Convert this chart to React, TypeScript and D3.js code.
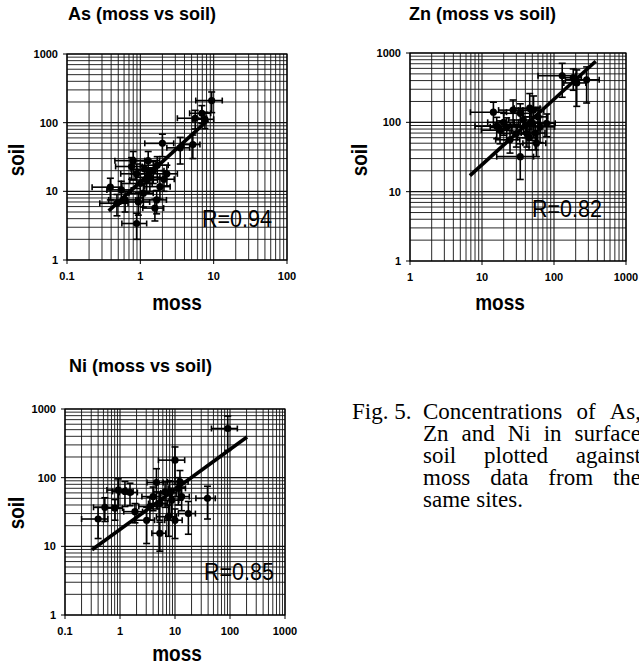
import React, { useEffect, useRef } from 'react';
import * as d3 from 'd3';

// As: moss vs soil
const asMoss = [9.4, 6.9, 5.6, 7.6, 2.0, 3.5, 5.2, 0.39, 0.89, 0.76, 0.89, 1.22, 1.5, 1.1, 1.67, 1.85, 0.62, 0.48, 1.28, 2.3, 0.94, 0.55, 1.58, 1.0, 1.35, 1.7, 2.1, 0.8, 1.15];
const asMossErr = [3.7, 2.2, 2.4, 2.4, 0.85, 1.2, 1.3, 0.17, 0.33, 0.3, 0.35, 0.5, 0.6, 0.4, 0.6, 0.7, 0.25, 0.2, 0.55, 0.9, 0.4, 0.2, 0.5, 0.45, 0.5, 0.7, 0.8, 0.35, 0.4];
const asSoil = [210, 137, 116, 112, 50, 43, 48, 11.5, 3.4, 23, 18, 14.6, 20, 9.4, 7.5, 11.7, 7.5, 6.7, 28, 18, 7, 10.5, 5.7, 13, 16, 24, 15, 28, 21];
const asSoilErr = [70, 40, 35, 30, 18, 18, 18, 4, 1.4, 8, 7, 5, 7, 3.5, 2.8, 4, 2.5, 2.3, 10, 6, 2.5, 3.5, 2, 5, 6, 8, 5, 10, 7];
const asTrend = [[0.37, 5.2], [8.4, 110]];

// Zn: moss vs soil
const znMoss = [130, 207, 284, 185, 14.4, 34, 22, 34, 52, 42, 64, 57, 30, 17.8, 79, 24.5, 37.5, 46, 27, 48, 60, 40, 55, 20, 45, 16];
const znMossErr = [70, 70, 140, 55, 7.5, 18, 9, 14, 20, 15, 38, 20, 12, 8, 25, 9, 14, 18, 10, 16, 22, 15, 20, 8, 14, 8];
const znSoil = [470, 370, 410, 440, 140, 32, 86, 135, 150, 69, 86, 50, 69, 77, 97, 56, 108, 160, 150, 100, 120, 90, 70, 100, 60, 88];
const znSoilErr = [240, 200, 220, 150, 55, 17, 30, 50, 90, 25, 35, 18, 25, 28, 35, 20, 40, 100, 60, 45, 45, 30, 30, 35, 20, 30];
const znTrend = [[6.8, 17], [380, 760]];

// Ni: moss vs soil
const niMoss = [91, 10, 39, 0.4, 0.53, 0.93, 1.23, 1.52, 0.81, 4.6, 6.6, 11.5, 12.3, 3.5, 5.3, 8.7, 17.5, 5.3, 3.05, 7.6, 1.87, 10, 13.2, 4.0, 8.0];
const niMossErr = [45, 5, 15, 0.2, 0.2, 0.35, 0.5, 0.55, 0.3, 1.5, 2.5, 4, 5, 1.3, 2, 3, 6, 1.5, 1.2, 3, 0.7, 3.5, 5, 1.5, 2.5];
const niSoil = [520, 180, 50, 25, 37, 66, 63, 61, 36, 85, 62, 70, 87, 38, 42, 47, 30, 15.5, 24, 27, 32, 24, 53, 53, 60];
const niSoilErr = [270, 100, 25, 12, 14, 30, 25, 22, 12, 50, 25, 30, 40, 14, 18, 20, 15, 7, 13, 13, 10, 11, 20, 20, 30];
const niTrend = [[0.31, 8.9], [204, 390]];

const soilLabels = ['1', '10', '100', '1000'];
const asMossLabels = ['0.1', '1', '10', '100'];
const znMossLabels = ['1', '10', '100', '1000'];
const niMossLabels = ['0.1', '1', '10', '100', '1000'];

const captionLabel = 'Fig. 5.';
const captionLines = [
  'Concentrations of As,',
  'Zn and Ni in surface',
  'soil plotted against',
  'moss data from the',
  'same sites.',
];

const SANS = 'Arial, "Liberation Sans", Helvetica, sans-serif';
const SERIF = '"Times New Roman", "Liberation Serif", serif';

function Panel(p: any) {
  const x = d3.scaleLog().domain([+p.xLabels[0], +p.xLabels[p.xLabels.length - 1]]).range([p.left, p.left + p.width]);
  const y = d3.scaleLog().domain([1, 1000]).range([p.top + p.height, p.top]);
  const isMajor = (v: number) => Math.abs(Math.log10(v) - Math.round(Math.log10(v))) < 1e-9;
  const line = d3.line<number[]>().x(d => x(d[0])).y(d => y(d[1]));
  const bottom = p.top + p.height;
  const right = p.left + p.width;

  return (
    <g>
      <text x={p.titleX} y={p.titleY} fontFamily={SANS} fontWeight="bold" fontSize={18}>{p.title}</text>

      {/* grid */}
      {x.ticks().map((v, i) => (
        <line key={'gx' + i} x1={x(v)} x2={x(v)} y1={p.top} y2={bottom}
          stroke="#111" strokeWidth={isMajor(v) ? 1.1 : 0.9} />
      ))}
      {y.ticks().map((v, i) => (
        <line key={'gy' + i} x1={p.left} x2={right} y1={y(v)} y2={y(v)}
          stroke="#111" strokeWidth={isMajor(v) ? 1.1 : 0.9} />
      ))}
      <rect x={p.left} y={p.top} width={p.width} height={p.height} fill="none" stroke="#000" strokeWidth={1.2} />

      {/* axis ticks + labels */}
      {p.xLabels.map((l: string) => (
        <g key={'xl' + l}>
          <line x1={x(+l)} x2={x(+l)} y1={bottom} y2={bottom + 4} stroke="#000" />
          <text x={x(+l)} y={bottom + 20} textAnchor="middle" fontFamily={SANS} fontWeight="bold" fontSize={11}>{l}</text>
        </g>
      ))}
      {soilLabels.map(l => (
        <g key={'yl' + l}>
          <line x1={p.left - 4} x2={p.left} y1={y(+l)} y2={y(+l)} stroke="#000" />
          <text x={p.left - 9} y={y(+l) + 4} textAnchor="end" fontFamily={SANS} fontWeight="bold" fontSize={11}>{l}</text>
        </g>
      ))}

      {/* error bars */}
      {p.moss.map((m: number, i: number) => {
        const s = p.soil[i];
        const x0 = x(m - p.mossErr[i]), x1 = x(m + p.mossErr[i]);
        const y0 = y(s - p.soilErr[i]), y1 = y(s + p.soilErr[i]);
        return (
          <g key={'e' + i} stroke="#000" strokeWidth={1.6}>
            <line x1={x0} x2={x1} y1={y(s)} y2={y(s)} />
            <line x1={x0} x2={x0} y1={y(s) - 3} y2={y(s) + 3} />
            <line x1={x1} x2={x1} y1={y(s) - 3} y2={y(s) + 3} />
            <line x1={x(m)} x2={x(m)} y1={y0} y2={y1} />
            <line x1={x(m) - 3.5} x2={x(m) + 3.5} y1={y0} y2={y0} />
            <line x1={x(m) - 3.5} x2={x(m) + 3.5} y1={y1} y2={y1} />
          </g>
        );
      })}
      {p.moss.map((m: number, i: number) => (
        <circle key={'c' + i} cx={x(m)} cy={y(p.soil[i])} r={3.6} fill="#000" />
      ))}

      {/* trend line */}
      <path d={line(p.trend) || ''} stroke="#000" strokeWidth={3.6} fill="none" />

      <text transform={`translate(${p.rX},${p.rY}) scale(1,1.1)`} fontFamily={SANS} fontSize={21.5}>{p.r}</text>

      <text transform={`translate(${p.soilX},${p.soilY}) rotate(-90) scale(1,1.2)`} textAnchor="middle"
        fontFamily={SANS} fontWeight="bold" fontSize={19}>soil</text>
      <text transform={`translate(${p.mossX},${p.mossY}) scale(1,1.2)`} textAnchor="middle"
        fontFamily={SANS} fontWeight="bold" fontSize={19}>moss</text>
    </g>
  );
}

// justified caption: words spread between left and right edge (last line left as is)
function Caption() {
  const ref = useRef<SVGGElement>(null);
  const left = 423, right = 641, top = 419, lead = 22;

  useEffect(() => {
    const g = d3.select(ref.current);
    captionLines.forEach((ln, li) => {
      const words = g.selectAll<SVGTextElement, unknown>(`.w${li}`).nodes();
      const widths = words.map(w => w.getComputedTextLength());
      const total = d3.sum(widths);
      const last = li === captionLines.length - 1;
      const gap = last || words.length < 2 ? 6 : (right - left - total) / (words.length - 1);
      let cx = left;
      words.forEach((w, i) => {
        d3.select(w).attr('x', cx);
        cx += widths[i] + gap;
      });
    });
  }, []);

  return (
    <g ref={ref} fontFamily={SERIF} fontSize={23}>
      <text x={352} y={top}>{captionLabel}</text>
      {captionLines.map((ln, li) =>
        ln.split(' ').map((w, wi) => (
          <text key={li + '-' + wi} className={'w' + li} x={left} y={top + li * lead}>{w}</text>
        ))
      )}
    </g>
  );
}

export default function App() {
  return (
    <svg width={639} height={665} style={{ position: 'absolute', left: 0, top: 0, background: '#fff' }}>
      <rect width={639} height={665} fill="#fff" />
      <Panel title="As (moss vs soil)" titleX={68} titleY={20}
        left={67} top={54} width={220} height={206} xLabels={asMossLabels}
        moss={asMoss} mossErr={asMossErr} soil={asSoil} soilErr={asSoilErr} trend={asTrend}
        r="R=0.94" rX={202} rY={227} soilX={24} soilY={160} mossX={177} mossY={310} />
      <Panel title="Zn (moss vs soil)" titleX={409} titleY={20}
        left={410} top={53} width={216} height={208} xLabels={znMossLabels}
        moss={znMoss} mossErr={znMossErr} soil={znSoil} soilErr={znSoilErr} trend={znTrend}
        r="R=0.82" rX={532} rY={217} soilX={367} soilY={160} mossX={500} mossY={310} />
      <Panel title="Ni (moss vs soil)" titleX={69} titleY={372}
        left={65} top={409} width={220} height={206} xLabels={niMossLabels}
        moss={niMoss} mossErr={niMossErr} soil={niSoil} soilErr={niSoilErr} trend={niTrend}
        r="R=0.85" rX={204} rY={580} soilX={24} soilY={513} mossX={177} mossY={661} />
      <Caption />
    </svg>
  );
}
